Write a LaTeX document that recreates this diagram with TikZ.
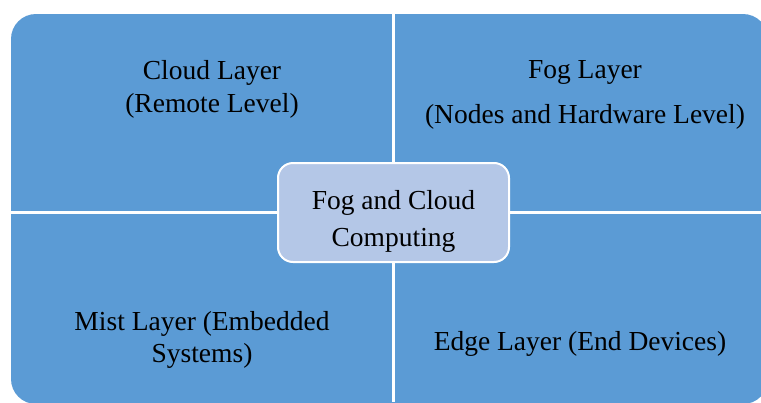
\documentclass[tikz,border=0pt]{standalone}
\usepackage{fontspec}
\setmainfont{Liberation Serif}
\definecolor{quadblue}{HTML}{5B9BD5}
\definecolor{hubblue}{HTML}{B4C7E7}
\tikzset{
  layertext/.style={align=center, text=black, font=\fontsize{27.5}{33}\selectfont},
  hub/.style={draw=white, line width=2pt, fill=hubblue, rounded corners=15pt,
    minimum width=231pt, minimum height=99pt}
}
\begin{document}
\begin{tikzpicture}[x=1pt,y=-1pt]
            \clip (0,0) rectangle (761,402);
            \fill[white] (0,0) rectangle (761,402);
            \fill[quadblue, rounded corners=25pt] (11,14) rectangle (768,404);
            \draw[white, line width=3pt] (393.5,0) -- (393.5,402);
            \draw[white, line width=2.5pt] (0,212.5) -- (761,212.5);

            \node[layertext] (cloud) at (212,89) {Cloud Layer\\(Remote Level)};
            \node[layertext] (fog) at (585,95) {Fog Layer\\[12pt](Nodes and Hardware Level)};
            \node[layertext, font=\fontsize{27.5}{31.5}\selectfont] (mist) at (202,340) {Mist Layer (Embedded\\Systems)};
            \node[layertext] (edge) at (580,344) {Edge Layer (End Devices)};
            \node[hub] (core) at (393.5,212.5) {};
            \node[layertext, font=\fontsize{27.5}{37}\selectfont] (coretext) at (393.5,221) {Fog and Cloud\\Computing};
        \end{tikzpicture}
\end{document}
